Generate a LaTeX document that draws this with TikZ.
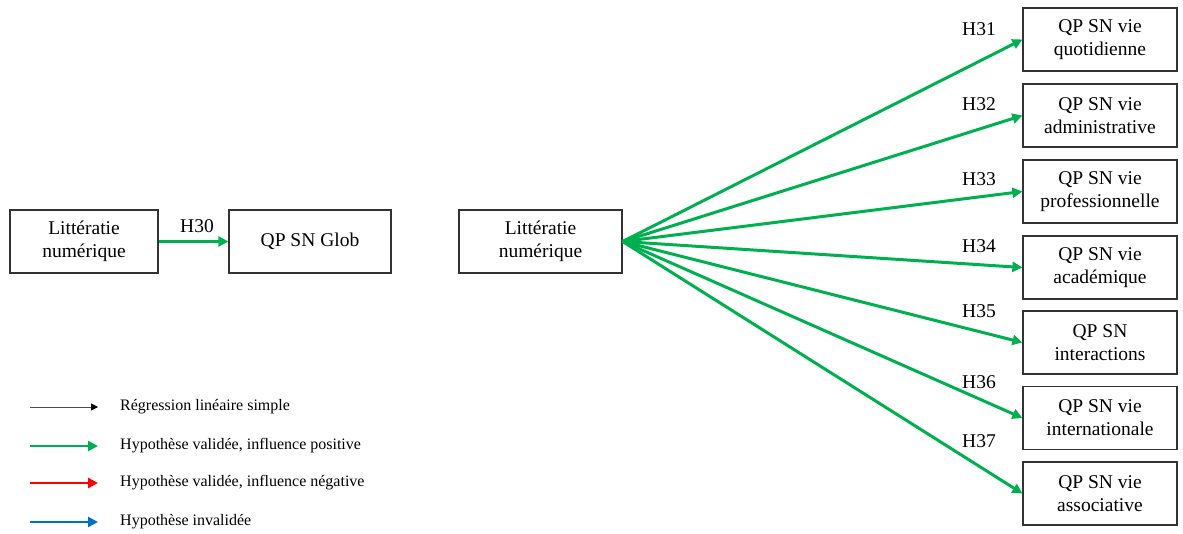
\documentclass[tikz,border=0pt]{standalone}
\usepackage{fontspec}
\setmainfont{Liberation Serif}
\usetikzlibrary{arrows.meta}
\definecolor{hgreen}{RGB}{0,176,80}
\definecolor{hred}{RGB}{255,0,0}
\definecolor{hblue}{RGB}{0,112,192}
\tikzset{
  boxnode/.style={draw=black!80, line width=1.2pt, inner sep=0pt, align=center,
    font=\fontsize{19.5}{23}\selectfont},
  hyp/.style={line width=3pt, -{Triangle[length=10pt,width=10pt]}},
  lbl/.style={font=\fontsize{19.5}{23}\selectfont, inner sep=0pt},
  legtxt/.style={font=\fontsize{16}{19}\selectfont, inner sep=0pt, anchor=west},
}
\begin{document}
\begin{tikzpicture}[x=1pt,y=-1pt]
\useasboundingbox (0,0) rectangle (1183,534);
% left model
\node[boxnode, minimum width=148pt, minimum height=63pt] (l1) at (84,241.5) {Littératie\\numérique};
\node[boxnode, minimum width=162pt, minimum height=63pt] (glob) at (310,241.5) {QP SN Glob};
\draw[hyp, hgreen] (l1.east) -- (glob.west);
\node[lbl] (h30) at (197,226) {H30};
% right model
\node[boxnode, minimum width=163pt, minimum height=63pt] (l2) at (540.5,241.5) {Littératie\\numérique};
\foreach \n/\y/\t in {1/39.5/{QP SN vie\\quotidienne},2/115.5/{QP SN vie\\administrative},3/191.5/{QP SN vie\\professionnelle},4/267.5/{QP SN vie\\académique},5/342.5/{QP SN\\interactions},6/418/{QP SN vie\\internationale},7/493.5/{QP SN vie\\associative}}{
  \node[boxnode, minimum width=154pt, minimum height=63pt] (r\n) at (1100,\y) {\t};
  \draw[hyp, hgreen, shorten <=0pt] (l2.east) -- (r\n.west);
}
\foreach \n/\y in {31/29,32/104,33/179,34/246,35/311,36/382,37/441}{
  \node[lbl] (h\n) at (979,\y) {H\n};
}
% legend
\coordinate (a1) at (30,407); \coordinate (b1) at (98,407);
\coordinate (a2) at (30,446); \coordinate (b2) at (98,446);
\coordinate (a3) at (30,483); \coordinate (b3) at (98,483);
\coordinate (a4) at (30,522); \coordinate (b4) at (98,522);
\draw[line width=0.8pt, black!70, -{Triangle[length=7pt,width=7pt,fill=black,color=black]}] (a1) -- (b1);
\draw[hyp, hgreen, line width=2.5pt] (a2) -- (b2);
\draw[hyp, hred, line width=2.5pt] (a3) -- (b3);
\draw[hyp, hblue, line width=2.5pt] (a4) -- (b4);
\node[legtxt] (t1) at (120,407) {Régression linéaire simple};
\node[legtxt] (t2) at (120,446) {Hypothèse validée, influence positive};
\node[legtxt] (t3) at (120,483) {Hypothèse validée, influence négative};
\node[legtxt] (t4) at (120,522) {Hypothèse invalidée};
\end{tikzpicture}
\end{document}
